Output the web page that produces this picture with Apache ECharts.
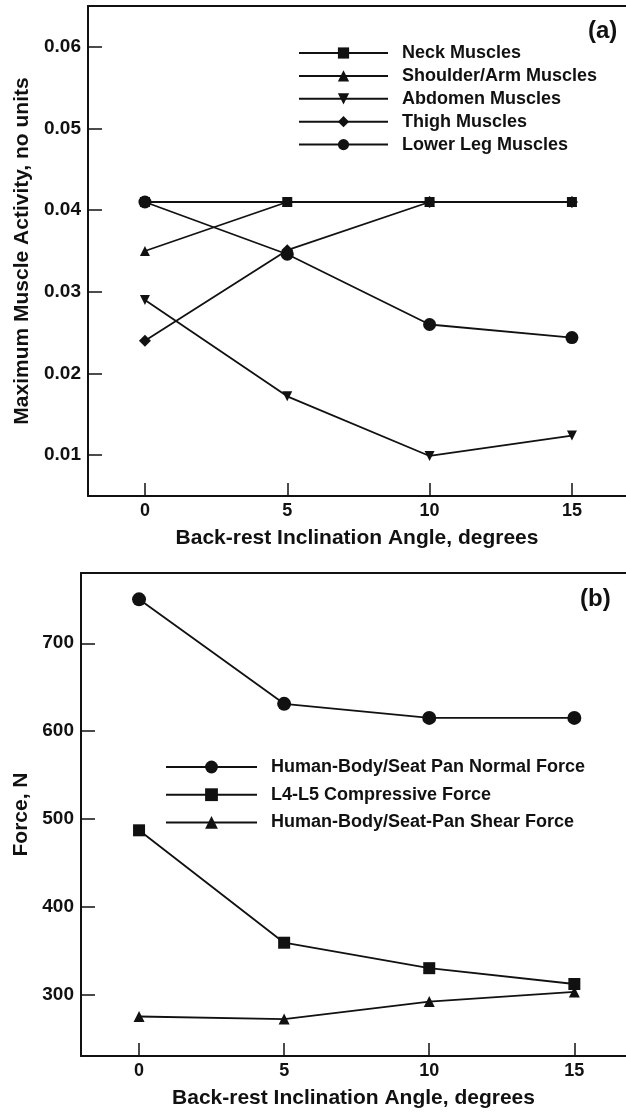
<!DOCTYPE html>
<html>
<head>
<meta charset="utf-8">
<script src="https://cdn.jsdelivr.net/npm/echarts@6/dist/echarts.min.js"></script>
<style>
  html, body { margin: 0; padding: 0; background: #fff; }
  #chart { width: 626px; height: 1112px; }
</style>
</head>
<body>
<div id="chart"></div>
<script>
// back-rest angles (x values)
const angles = [0, 5, 10, 15];

// (a) maximum muscle activity
const neck = [0.041, 0.041, 0.041, 0.041];
const shoulderArm = [0.035, 0.041, 0.041, 0.041];
const abdomen = [0.029, 0.0172, 0.0099, 0.0124];
const thigh = [0.024, 0.0351, 0.041, 0.041];
const lowerLeg = [0.041, 0.0346, 0.026, 0.0244];

// (b) forces, N
const normalForce = [750, 631, 615, 615];
const compressive = [487, 359, 330, 312];
const shearForce = [275, 272, 292, 303];

const xTicks = [0, 5, 10, 15];
const yTicksA = [0.01, 0.02, 0.03, 0.04, 0.05, 0.06];
const yTicksB = [300, 400, 500, 600, 700];

const ink = '#111';
const font = 'Liberation Sans, Arial, sans-serif';
const downTri = 'path://M0,0L10,0L5,9Z';

const pairs = (vals) => vals.map((v, i) => [angles[i], v]);

function lineSeries(name, vals, symbol, size, xi, yi) {
  return {
    name: name,
    type: 'line',
    xAxisIndex: xi,
    yAxisIndex: yi,
    data: pairs(vals),
    symbol: symbol,
    symbolSize: size,
    showAllSymbol: true,
    lineStyle: { color: ink, width: 1.8 },
    itemStyle: { color: ink, borderWidth: 0 },
    emphasis: { disabled: true },
    animation: false
  };
}

// the right side of both frames is cut off by the page edge
function bottomAxis(grid, name, max) {
  return {
    type: 'value', gridIndex: grid, position: 'bottom',
    min: -2, max: max,
    name: name, nameLocation: 'middle', nameGap: 32,
    nameTextStyle: { color: ink, fontSize: 21, fontWeight: 'bold', fontFamily: font },
    axisLine: { show: true, onZero: false, lineStyle: { color: ink, width: 2 } },
    axisTick: { show: true, inside: true, length: 13, customValues: xTicks, lineStyle: { color: ink, width: 1.5 } },
    axisLabel: { customValues: xTicks, color: ink, fontSize: 18, fontWeight: 'bold', fontFamily: font, margin: 6 },
    splitLine: { show: false }
  };
}

function topBorder(grid, max) {
  return {
    type: 'value', gridIndex: grid, position: 'top',
    min: -2, max: max,
    axisLine: { show: true, onZero: false, lineStyle: { color: ink, width: 2 } },
    axisTick: { show: false }, axisLabel: { show: false }, splitLine: { show: false }
  };
}

function leftAxis(grid, name, min, max, ticks, gap) {
  return {
    type: 'value', gridIndex: grid,
    min: min, max: max,
    name: name, nameLocation: 'middle', nameGap: gap,
    nameTextStyle: { color: ink, fontSize: 21, fontWeight: 'bold', fontFamily: font },
    axisLine: { show: true, onZero: false, lineStyle: { color: ink, width: 2 } },
    axisTick: { show: true, inside: true, length: 14, customValues: ticks, lineStyle: { color: ink, width: 1.5 } },
    axisLabel: { customValues: ticks, color: ink, fontSize: 19, fontWeight: 'bold', fontFamily: font, margin: 7 },
    splitLine: { show: false }
  };
}

const legendText = { color: ink, fontSize: 18, fontWeight: 'bold', fontFamily: font, padding: [0, 0, 0, 9] };

const chart = echarts.init(document.getElementById('chart'));
chart.setOption({
  backgroundColor: '#fff',
  animation: false,
  grid: [
    { left: 88, right: 0, top: 6, height: 490 },
    { left: 81, right: 0, top: 573, height: 483 }
  ],
  xAxis: [bottomAxis(0, 'Back-rest Inclination Angle, degrees', 16.9), topBorder(0, 16.9),
          bottomAxis(1, 'Back-rest Inclination Angle, degrees', 16.78), topBorder(1, 16.78)],
  yAxis: [leftAxis(0, 'Maximum Muscle Activity, no units', 0.005, 0.065, yTicksA, 53),
          leftAxis(1, 'Force, N', 230, 780, yTicksB, 43)],
  legend: [
    {
      orient: 'vertical', left: 298, top: 44, padding: 0,
      itemWidth: 89, itemHeight: 14, itemGap: 4.9,
      textStyle: legendText,
      data: ['Neck Muscles', 'Shoulder/Arm Muscles', 'Abdomen Muscles', 'Thigh Muscles', 'Lower Leg Muscles']
    },
    {
      orient: 'vertical', left: 165, top: 758, padding: 0,
      itemWidth: 91, itemHeight: 16, itemGap: 9.7,
      textStyle: legendText,
      data: ['Human-Body/Seat Pan Normal Force', 'L4-L5 Compressive Force', 'Human-Body/Seat-Pan Shear Force']
    }
  ],
  graphic: [
    { type: 'text', left: 588, top: 19, style: { text: '(a)', fill: ink, font: 'bold 24px ' + font } },
    { type: 'text', left: 580, top: 587, style: { text: '(b)', fill: ink, font: 'bold 24px ' + font } }
  ],
  series: [
    lineSeries('Neck Muscles', neck, 'rect', 10, 0, 0),
    lineSeries('Shoulder/Arm Muscles', shoulderArm, 'triangle', 10, 0, 0),
    lineSeries('Abdomen Muscles', abdomen, downTri, 10, 0, 0),
    lineSeries('Thigh Muscles', thigh, 'diamond', 12, 0, 0),
    lineSeries('Lower Leg Muscles', lowerLeg, 'circle', 13, 0, 0),
    lineSeries('Human-Body/Seat Pan Normal Force', normalForce, 'circle', 14, 2, 1),
    lineSeries('L4-L5 Compressive Force', compressive, 'rect', 12, 2, 1),
    lineSeries('Human-Body/Seat-Pan Shear Force', shearForce, 'triangle', 11, 2, 1)
  ]
});
</script>
</body>
</html>
